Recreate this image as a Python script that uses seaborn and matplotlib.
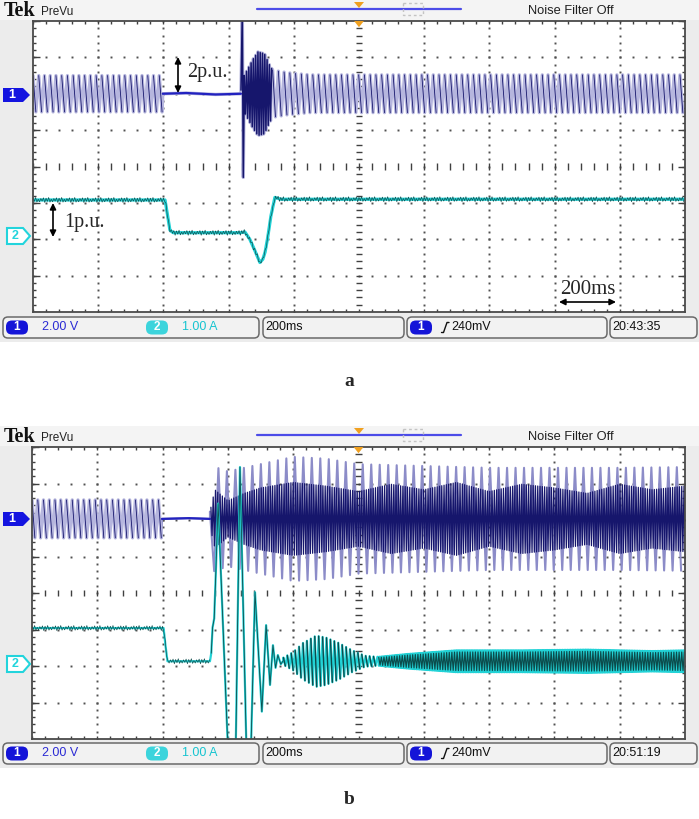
import numpy as np
import pandas as pd
import matplotlib
matplotlib.use("Agg")
import matplotlib.pyplot as plt
import seaborn as sns
from matplotlib.patches import FancyBboxPatch, Polygon, Rectangle

W, H = 699, 819

# ---- values ----
# time in ms (200 ms/div, 10 div across), amplitude in divisions (8 div tall)
ch1_pos_a, ch2_pos_a = 2.0, -1.9
ch1_pos_b, ch2_pos_b = 2.03, -1.95
line_period = 17.6          # apparent period of the steady ch1 waveform

# (a) channel 1
a1_pre_t = [0, 398]
a1_pre_v = [0.5, 0.5]
a1_flat_t = [398, 470, 560, 638]
a1_flat_v = [0.0, 0.02, -0.02, 0.0]
a1_spike_t = [638, 642, 645, 648]
a1_spike_v = [0.1, 2.3, -2.3, 0.3]
a1_burst_t = [648, 660, 675, 690, 710, 725, 735]
a1_burst_v = [0.5, 0.7, 0.95, 1.15, 1.1, 0.8, 0.65]
a1_post_t = [735, 780, 850, 2000]
a1_post_v = [0.65, 0.58, 0.52, 0.52]

# (a) channel 2
a2_t = [0, 405, 412, 420, 430, 636, 650, 665, 680, 696, 705, 712, 720, 730, 742, 760, 2000]
a2_v = [0.98, 0.98, 0.6, 0.15, 0.08, 0.08, 0.1, -0.1, -0.4, -0.74, -0.65, -0.45, -0.05, 0.55, 1.05, 1.0, 1.0]
ripple = [0.05, -0.04, 0.07, -0.06, 0.02, -0.05, 0.04, -0.03, 0.06, -0.07]

# (b) channel 1
b1_pre_t = [0, 398]
b1_pre_v = [0.52, 0.52]
b1_flat_t = [398, 480, 545]
b1_flat_v = [0.0, 0.02, 0.0]
b1_big_t = [545, 552, 600, 650, 700, 800, 900, 1000, 1200, 1400, 1600, 1800, 2000]
b1_big_v = [0.2, 1.45, 1.3, 1.4, 1.5, 1.7, 1.65, 1.5, 1.45, 1.4, 1.4, 1.4, 1.42]
big_period = 26
b1_core_t = [545, 560, 600, 650, 700, 800, 900, 1000, 1100, 1200, 1300, 1400, 1500, 1600, 1700, 1800, 1900, 2000]
b1_core_v = [0.2, 0.8, 0.5, 0.7, 0.85, 1.0, 0.9, 0.75, 0.95, 0.8, 1.0, 0.75, 0.95, 0.85, 0.7, 0.95, 0.8, 0.9]
core_period = 7

# (b) channel 2
b2_step_t = [0, 403, 409, 415, 545]
b2_step_v = [0.99, 0.99, 0.5, 0.08, 0.08]
b2_swing_t = [549, 553, 558, 563, 570, 600, 610, 622, 637, 659, 668, 683, 704, 717, 729, 738, 746, 753, 762, 770]
b2_swing_v = [0.3, 1.0, 1.25, 2.5, 4.4, -2.3, -3.5, -3.5, 5.4, -3.2, -3.2, 1.97, -1.3, 1.07, -0.57, 0.52, -0.1, 0.25, 0.0, 0.1]
b2_packet_t = [770, 800, 830, 870, 900, 940, 980, 1020, 1060]
b2_packet_v = [0.1, 0.25, 0.5, 0.7, 0.65, 0.5, 0.3, 0.15, 0.12]
packet_period = 12
b2_band_t = [1060, 1150, 1300, 1500, 1700, 1900, 2000]
b2_band_v = [0.12, 0.2, 0.3, 0.3, 0.32, 0.28, 0.3]
band_period = 5
band_level = 0.08

# colours
NAVY = "#16166c"
LAV = "#b6b6de"
BLUE = "#2222c0"
CYAN = "#22d2d6"
TEAL = "#0c4c4c"


def zigzag(t0, t1, period, env_t, env_v, level=0.0, phase=0):
    t = np.arange(t0, t1, period / 2.0)
    sign = np.where((np.arange(len(t)) + phase) % 2 == 0, 1.0, -1.0)
    return t, level + sign * np.interp(t, env_t, env_v)


def falling(t, v):
    idx = np.where(np.diff(v) < 0)[0]
    return pd.DataFrame({
        "t": np.column_stack([t[idx], t[idx + 1]]).ravel(),
        "v": np.column_stack([v[idx], v[idx + 1]]).ravel(),
        "u": np.repeat(np.arange(len(idx)), 2),
    })


def line(ax, t, v, color, lw):
    sns.lineplot(x=np.asarray(t, float), y=np.asarray(v, float), ax=ax, color=color,
                 linewidth=lw, sort=False, estimator=None, errorbar=None, legend=False)


def seg_lines(ax, df, color, lw):
    sns.lineplot(data=df, x="t", y="v", units="u", ax=ax, color=color, linewidth=lw,
                 sort=False, estimator=None, errorbar=None, legend=False)


def with_ripple(t, v, step=4):
    tt = np.arange(t[0], t[-1], step)
    r = np.resize(np.array(ripple), len(tt))
    return tt, np.interp(tt, t, v) + r


def graticule(ax):
    ax.set_xlim(0, 2000)
    ax.set_ylim(-4, 4)
    ax.set_xticks([])
    ax.set_yticks([])
    ax.set_xlabel("")
    ax.set_ylabel("")
    ax.set_facecolor("white")
    for s in ax.spines.values():
        s.set_color("#4a4a4a")
        s.set_linewidth(1.3)
    mx = np.arange(0, 2001, 40)
    my = np.round(np.arange(-4, 4.001, 0.2), 2)
    kw = dict(ls="none", marker="s", ms=1.4, mew=0, color="#505050", zorder=1)
    for gx in range(200, 2000, 200):
        if gx != 1000:
            ax.plot(np.full(len(my), gx), my, **kw)
    for gy in [-3, -2, -1, 1, 2, 3]:
        ax.plot(mx, np.full(len(mx), gy), **kw)
    tx, ty = 10, 0.09
    lk = dict(color="#404040", lw=1.0, zorder=1)
    ax.vlines(mx, -ty, ty, **lk)
    ax.hlines(my, 1000 - tx, 1000 + tx, **lk)
    ax.vlines(mx, -4, -4 + ty, **lk)
    ax.vlines(mx, 4 - ty, 4, **lk)
    ax.hlines(my, 0, tx, **lk)
    ax.hlines(my, 2000 - tx, 2000, **lk)
    major = np.arange(-4, 5, 1)
    ax.hlines(major, 0, 2 * tx, **lk)
    ax.hlines(major, 2000 - 2 * tx, 2000, **lk)


def screen_frame(bg, oy, clock):
    bg.add_patch(Rectangle((0, oy), W, 342, fc="#ececec", ec="none", zorder=0))
    bg.add_patch(Rectangle((0, oy), W, 20, fc="#f4f4f4", ec="none", zorder=0))
    bg.text(4, oy + 10.5, "Tek", family="Liberation Serif", fontweight="bold", fontsize=14.5,
            va="center", color="#111111")
    bg.text(41, oy + 12, "PreVu", fontsize=8.5, va="center", color="#222222")
    bg.plot([257, 461], [oy + 8.5, oy + 8.5], color="#4c4ce8", lw=1.6, zorder=2)
    bg.add_patch(Polygon([(354, oy + 2), (364, oy + 2), (359, oy + 8)], fc="#f0a020", ec="none", zorder=3))
    bg.add_patch(Rectangle((403, oy + 3), 20, 12, fc="none", ec="#c4c4c4", ls=(0, (2, 2)), lw=1, zorder=3))
    bg.text(528, oy + 11, "Noise Filter Off", fontsize=9.3, va="center", color="#202020")
    # status bar
    yb = oy + 317
    for x0, x1 in [(3, 259), (263, 404), (407, 607), (610, 697)]:
        bg.add_patch(FancyBboxPatch((x0, yb), x1 - x0, 21, boxstyle="round,pad=0,rounding_size=5",
                                    fc="#f2f2f2", ec="#6a6a6a", lw=1.1, zorder=2))
    yc = yb + 10.5
    for x0, fc in [(6, "#1414d8"), (146, "#3cd4dc"), (410, "#1414d8")]:
        bg.add_patch(FancyBboxPatch((x0, yc - 7), 22, 14, boxstyle="round,pad=0,rounding_size=6",
                                    fc=fc, ec="none", zorder=3))
    bg.text(17, yc, "1", color="white", fontsize=8.5, fontweight="bold", ha="center", va="center", zorder=4)
    bg.text(157, yc, "2", color="white", fontsize=8.5, fontweight="bold", ha="center", va="center", zorder=4)
    bg.text(421, yc, "1", color="white", fontsize=8.5, fontweight="bold", ha="center", va="center", zorder=4)
    bg.text(42, yc, "2.00 V", color="#2a2ad4", fontsize=9, va="center", zorder=4)
    bg.text(182, yc, "1.00 A", color="#16c4d0", fontsize=9, va="center", zorder=4)
    bg.text(265, yc, "200ms", color="#111111", fontsize=9, va="center", zorder=4)
    bg.plot([441.5, 443.5, 447, 449], [yc + 5, yc + 5, yc - 5, yc - 5], color="#111111", lw=1.0, zorder=4)
    bg.text(451, yc, "240mV", color="#111111", fontsize=9, va="center", zorder=4)
    bg.text(612, yc, clock, color="#111111", fontsize=9, va="center", zorder=4)


def markers(bg, y1, y2):
    bg.add_patch(Polygon([(3, y1 - 7), (23, y1 - 7), (30, y1), (23, y1 + 7), (3, y1 + 7)],
                         fc="#1414e0", ec="none", zorder=3))
    bg.text(12, y1, "1", color="white", fontsize=9, fontweight="bold", ha="center", va="center", zorder=4)
    bg.add_patch(Polygon([(7, y2 - 8), (23, y2 - 8), (30, y2), (23, y2 + 8), (7, y2 + 8)],
                         fc="white", ec="#22d4dc", lw=1.5, zorder=3))
    bg.text(15, y2, "2", color="#22d4dc", fontsize=9, fontweight="bold", ha="center", va="center", zorder=4)


sns.set_style("white")
plt.rcParams["font.family"] = ["Liberation Sans", "DejaVu Sans"]

fig = plt.figure(figsize=(W / 100, H / 100), dpi=100)
bg = fig.add_axes([0, 0, 1, 1], zorder=0)
bg.set_xlim(0, W)
bg.set_ylim(H, 0)
bg.axis("off")


def px_axes(left, top, right, bottom):
    return fig.add_axes([left / W, 1 - bottom / H, (right - left) / W, (bottom - top) / H], zorder=2)


screen_frame(bg, 0, "20:43:35")
screen_frame(bg, 426, "20:51:19")
markers(bg, 95, 236)
markers(bg, 519, 664)

# ---------------- panel a ----------------
axa = px_axes(33, 21, 685, 312)
graticule(axa)

pre_t, pre_v = zigzag(0, 398, line_period, a1_pre_t, a1_pre_v)
post_t, post_v = zigzag(735, 2001, line_period, a1_post_t, a1_post_v)
burst_t, burst_v = zigzag(648, 735, 7, a1_burst_t, a1_burst_v)
a1_t = np.concatenate([pre_t, a1_flat_t, a1_spike_t, burst_t, post_t])
a1_v = np.concatenate([pre_v, a1_flat_v, a1_spike_v, burst_v, post_v]) + ch1_pos_a
line(axa, a1_t, a1_v, LAV, 2.4)
seg_lines(axa, falling(pre_t, pre_v + ch1_pos_a), NAVY, 0.6)
seg_lines(axa, falling(post_t, post_v + ch1_pos_a), NAVY, 0.6)
line(axa, a1_flat_t, np.array(a1_flat_v) + ch1_pos_a, BLUE, 1.6)
line(axa, np.concatenate([a1_spike_t, burst_t]),
     np.concatenate([a1_spike_v, burst_v]) + ch1_pos_a, NAVY, 1.1)

line(axa, a2_t, np.array(a2_v) + ch2_pos_a, CYAN, 2.3)
rt, rv = with_ripple(a2_t, a2_v)
line(axa, rt, rv + ch2_pos_a, TEAL, 0.45)
axa.add_patch(Polygon([(1000 - 15, 4), (1000 + 15, 4), (1000, 3.83)], fc="#f0a020", ec="none",
                      transform=axa.transData, zorder=5, clip_on=False))

# ---------------- panel b ----------------
axb = px_axes(32, 447, 685, 739)
graticule(axb)

pre_t, pre_v = zigzag(0, 398, line_period, b1_pre_t, b1_pre_v)
big_t, big_v = zigzag(545, 2001, big_period, b1_big_t, b1_big_v)
core_t, core_v = zigzag(548, 2001, core_period, b1_core_t, b1_core_v)
b1_t = np.concatenate([pre_t, b1_flat_t, big_t])
b1_v = np.concatenate([pre_v, b1_flat_v, big_v]) + ch1_pos_b
line(axb, b1_t, b1_v, "#8c8cc8", 1.5)
line(axb, pre_t, pre_v + ch1_pos_b, LAV, 2.4)
seg_lines(axb, falling(pre_t, pre_v + ch1_pos_b), NAVY, 0.6)
line(axb, b1_flat_t, np.array(b1_flat_v) + ch1_pos_b, BLUE, 1.6)
line(axb, core_t, core_v + ch1_pos_b, NAVY, 0.9)

pk_t, pk_v = zigzag(770, 1060, packet_period, b2_packet_t, b2_packet_v, level=band_level)
bd_t, bd_v = zigzag(1060, 2001, band_period, b2_band_t, b2_band_v, level=band_level)
b2_t = np.concatenate([b2_step_t, b2_swing_t, pk_t, bd_t])
b2_v = np.concatenate([b2_step_v, b2_swing_v, pk_v, bd_v]) + ch2_pos_b
line(axb, b2_t, b2_v, CYAN, 1.6)
rt, rv = with_ripple(b2_step_t, b2_step_v)
line(axb, rt, rv + ch2_pos_b, TEAL, 0.45)
line(axb, b2_swing_t, np.array(b2_swing_v) + ch2_pos_b, TEAL, 0.6)
seg_lines(axb, falling(pk_t, pk_v + ch2_pos_b), TEAL, 1.0)
bd2_t, bd2_v = zigzag(1062, 2001, band_period * 1.6, b2_band_t, b2_band_v, level=band_level)
line(axb, bd2_t, (bd2_v - band_level) * 0.85 + band_level + ch2_pos_b, TEAL, 0.85)
axb.add_patch(Polygon([(1000 - 15, 4), (1000 + 15, 4), (1000, 3.83)], fc="#f0a020", ec="none",
                      transform=axb.transData, zorder=5, clip_on=False))

# ---------------- annotations ----------------
fg = fig.add_axes([0, 0, 1, 1], zorder=5)
fg.set_xlim(0, W)
fg.set_ylim(H, 0)
fg.axis("off")
fg.patch.set_alpha(0)
arr = dict(arrowstyle="<|-|>", color="black", lw=1.2, mutation_scale=9, shrinkA=0, shrinkB=0)
fg.annotate("", xy=(178, 57), xytext=(178, 93), arrowprops=arr)
fg.text(187, 73, "2p.u.", family="Liberation Serif", fontsize=14.5, va="center")
fg.annotate("", xy=(53, 203), xytext=(53, 237), arrowprops=arr)
fg.text(64, 223, "1p.u.", family="Liberation Serif", fontsize=14.5, va="center")
fg.annotate("", xy=(559, 302), xytext=(616, 302), arrowprops=arr)
fg.text(588, 289, "200ms", family="Liberation Serif", fontsize=15, va="center", ha="center")
fg.text(349, 381, "a", family="Liberation Serif", fontweight="bold", fontsize=14, ha="center", va="center")
fg.text(349, 800, "b", family="Liberation Serif", fontweight="bold", fontsize=14, ha="center", va="center")

fig.savefig("out.png", dpi=100)
